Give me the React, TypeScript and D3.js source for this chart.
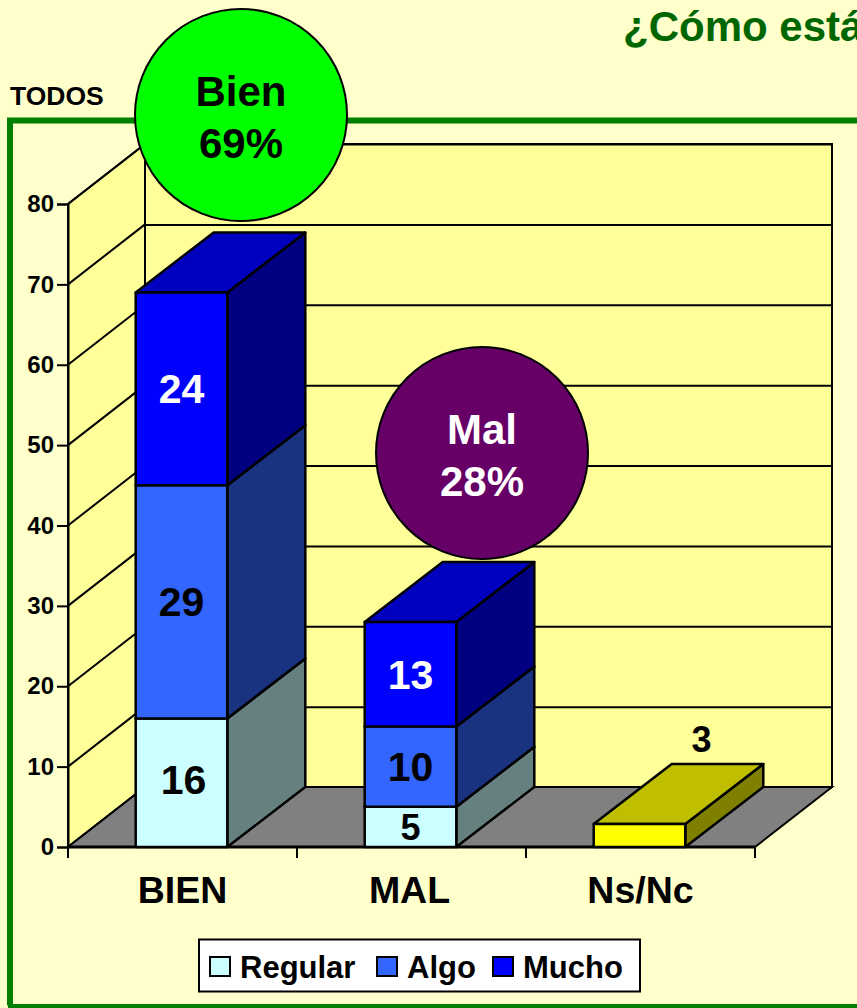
import React, { useEffect, useRef } from "react";
import * as d3 from "d3";

const categories = ["BIEN", "MAL", "Ns/Nc"];
const seriesNames = ["Regular", "Algo", "Mucho", "NsNc"];
const regular = [16, 5, 0];
const algo = [29, 10, 0];
const mucho = [24, 13, 0];
const nsNc = [0, 0, 3];
const yTicks = [0, 10, 20, 30, 40, 50, 60, 70, 80];
const legendNames = ["Regular", "Algo", "Mucho"];

const W = 857;
const H = 1008;
const FONT = "'Liberation Sans', Arial, sans-serif";
const DX = 77;
const DY = -60;
const BAR_DX = 78;

const front: Record<string, string> = { Regular: "#CCFFFF", Algo: "#3366FF", Mucho: "#0000FF", NsNc: "#FFFF00" };
const top: Record<string, string> = { Regular: "#99BFBF", Algo: "#264DBF", Mucho: "#0000BF", NsNc: "#BFBF00" };
const side: Record<string, string> = { Regular: "#668080", Algo: "#1A3380", Mucho: "#000080", NsNc: "#808000" };
const labelColor: Record<string, string> = { Regular: "#000", Algo: "#000", Mucho: "#fff", NsNc: "#000" };

export default function App() {
  const ref = useRef<SVGSVGElement>(null);

  useEffect(() => {
    const svg = d3.select(ref.current);
    svg.selectAll("*").remove();

    const y = d3.scaleLinear().domain([0, 80]).range([847, 204]);
    const xAxisScale = d3.scaleBand().domain(categories).range([68, 755]);
    const xBar = d3.scaleBand().domain(categories).range([67, 754]).paddingInner(0.6).paddingOuter(0.3);
    const poly = d3.line().curve(d3.curveLinearClosed);

    const rows = categories.map((c, i) => ({
      cat: c,
      Regular: regular[i],
      Algo: algo[i],
      Mucho: mucho[i],
      NsNc: nsNc[i],
    }));
    const stacked = d3.stack().keys(seriesNames)(rows as any);

    svg.append("rect").attr("width", W).attr("height", H).attr("fill", "#FFFFCC");

    // title, clipped by the page like the original slide
    svg.append("text").attr("x", 623).attr("y", 41).attr("font-size", 42).attr("font-weight", "bold")
      .attr("font-family", FONT).attr("fill", "#006600").text("¿Cómo está");
    svg.append("text").attr("x", 10).attr("y", 105).attr("font-size", 26.5).attr("font-weight", "bold")
      .attr("font-family", FONT).attr("fill", "#000").text("TODOS");

    // green frame
    svg.append("path").attr("d", "M10,1005.5V120.5H860").attr("fill", "none").attr("stroke", "#008000").attr("stroke-width", 6);
    svg.append("path").attr("d", `M8,1006H${W}`).attr("stroke", "#008000").attr("stroke-width", 4);

    const x0 = xAxisScale.range()[0];
    const x1 = xAxisScale.range()[1];
    const walls = svg.append("g").attr("stroke", "#000");

    // back wall, side wall, floor
    walls.append("path")
      .attr("d", poly([[x0 + DX, y(80) + DY], [x1 + DX, y(80) + DY], [x1 + DX, y(0) + DY], [x0 + DX, y(0) + DY]]))
      .attr("fill", "#FFFF99").attr("stroke-width", 2);
    walls.append("path")
      .attr("d", poly([[x0, y(0)], [x0 + DX, y(0) + DY], [x0 + DX, y(80) + DY], [x0, y(80)]]))
      .attr("fill", "#FFFF99").attr("stroke-width", 2);
    walls.selectAll("line.back").data(yTicks).join("line").attr("class", "back")
      .attr("x1", x0 + DX).attr("x2", x1 + DX)
      .attr("y1", (d) => y(d) + DY + 0.5).attr("y2", (d) => y(d) + DY + 0.5).attr("stroke-width", 2);
    walls.selectAll("line.sidewall").data(yTicks).join("line").attr("class", "sidewall")
      .attr("x1", x0).attr("x2", x0 + DX)
      .attr("y1", (d) => y(d)).attr("y2", (d) => y(d) + DY).attr("stroke-width", 2);
    walls.append("path")
      .attr("d", poly([[x0, y(0)], [x1, y(0)], [x1 + DX, y(0) + DY], [x0 + DX, y(0) + DY]]))
      .attr("fill", "#808080").attr("stroke-width", 2);

    // axes
    const yAxis = svg.append("g").attr("transform", `translate(${x0},0)`)
      .call(d3.axisLeft(y).tickValues(yTicks).tickSize(11).tickPadding(3));
    yAxis.select(".domain").attr("stroke", "#000").attr("stroke-width", 2);
    yAxis.selectAll("line").attr("stroke", "#000").attr("stroke-width", 2);
    yAxis.selectAll("text").attr("font-size", 24).attr("font-weight", "bold").attr("font-family", FONT).attr("fill", "#000");

    const xAxis = svg.append("g").attr("transform", `translate(0,${y(0)})`);
    xAxis.append("line").attr("x1", x0).attr("x2", x1).attr("y1", 0).attr("y2", 0).attr("stroke", "#000").attr("stroke-width", 3);
    xAxis.selectAll("line.tick").data(categories.concat("end")).join("line").attr("class", "tick")
      .attr("x1", (d) => (d === "end" ? x1 : xAxisScale(d)!))
      .attr("x2", (d) => (d === "end" ? x1 : xAxisScale(d)!))
      .attr("y1", 0).attr("y2", 11).attr("stroke", "#000").attr("stroke-width", 2);
    xAxis.selectAll("text").data(categories).join("text")
      .attr("x", (d) => xBar(d)! + xBar.bandwidth() / 2 + (d === "MAL" ? -1 : 1))
      .attr("y", 56).attr("text-anchor", "middle").attr("font-size", 37.5).attr("font-weight", "bold")
      .attr("font-family", FONT).attr("fill", "#000").text((d) => d);

    // 3D stacked bars
    const bars = svg.append("g").attr("stroke", "#000").attr("stroke-width", 2.5).attr("stroke-linejoin", "round");
    stacked.forEach((layer: any) => {
      const key = layer.key as string;
      layer.forEach((d: any, i: number) => {
        if (d[1] - d[0] <= 0) return;
        const bx = xBar(categories[i])!;
        const bw = xBar.bandwidth();
        const yb = y(d[0]);
        const yt = y(d[1]) + (key === "NsNc" ? 1 : 0);
        bars.append("path").attr("fill", side[key])
          .attr("d", poly([[bx + bw, yb], [bx + bw + BAR_DX, yb + DY], [bx + bw + BAR_DX, yt + DY], [bx + bw, yt]]));
        bars.append("path").attr("fill", top[key])
          .attr("d", poly([[bx, yt], [bx + bw, yt], [bx + bw + BAR_DX, yt + DY], [bx + BAR_DX, yt + DY]]));
        bars.append("rect").attr("fill", front[key]).attr("x", bx).attr("y", yt).attr("width", bw).attr("height", yb - yt);
      });
    });

    // data labels
    const labels = svg.append("g").attr("font-weight", "bold").attr("font-family", FONT).attr("text-anchor", "middle");
    stacked.forEach((layer: any) => {
      const key = layer.key as string;
      layer.forEach((d: any, i: number) => {
        const v = d[1] - d[0];
        if (v <= 0) return;
        const cx = xBar(categories[i])! + xBar.bandwidth() / 2;
        const isNs = key === "NsNc";
        const isFirst = i === 0 && key === "Regular";
        labels.append("text")
          .attr("x", isNs ? cx + 62 : cx + (isFirst ? 2 : 0))
          .attr("y", isNs ? y(d[1]) + DY - 11 : (y(d[0]) + y(d[1])) / 2 - (isFirst ? 3 : 0))
          .attr("dy", isNs ? "0" : "0.35em")
          .attr("font-size", isNs || v < 6 ? 36 : 41)
          .attr("fill", labelColor[key]).text(v);
      });
    });

    // circle callouts
    const callout = (cx: number, cy: number, fill: string, color: string, a: string, b: string) => {
      const g = svg.append("g");
      g.append("circle").attr("cx", cx).attr("cy", cy).attr("r", 106).attr("fill", fill).attr("stroke", "#000").attr("stroke-width", 2);
      g.selectAll("text").data([a, b]).join("text")
        .attr("x", cx).attr("y", (_, i) => cy - 9 + i * 52).attr("text-anchor", "middle")
        .attr("font-size", 42).attr("font-weight", "bold").attr("font-family", FONT).attr("fill", color).text((d) => d);
    };
    callout(241, 115, "#00FF00", "#000", "Bien", "69%");
    callout(482, 453, "#660066", "#fff", "Mal", "28%");

    // legend
    const legend = svg.append("g");
    legend.append("rect").attr("x", 199).attr("y", 939.5).attr("width", 441).attr("height", 52).attr("fill", "#fff").attr("stroke", "#000").attr("stroke-width", 2);
    const legendX = d3.scaleOrdinal<string, number>().domain(legendNames).range([210, 377, 493]);
    legendNames.forEach((n) => {
      legend.append("rect").attr("x", legendX(n)).attr("y", 957).attr("width", 20).attr("height", 19)
        .attr("fill", front[n]).attr("stroke", "#000").attr("stroke-width", 2);
      legend.append("text").attr("x", legendX(n) + 30).attr("y", 978).attr("font-size", 31).attr("font-weight", "bold")
        .attr("font-family", FONT).attr("fill", "#000").text(n);
    });
  }, []);

  return <svg ref={ref} width={W} height={H} style={{ position: "absolute", left: 0, top: 0, display: "block" }} />;
}
